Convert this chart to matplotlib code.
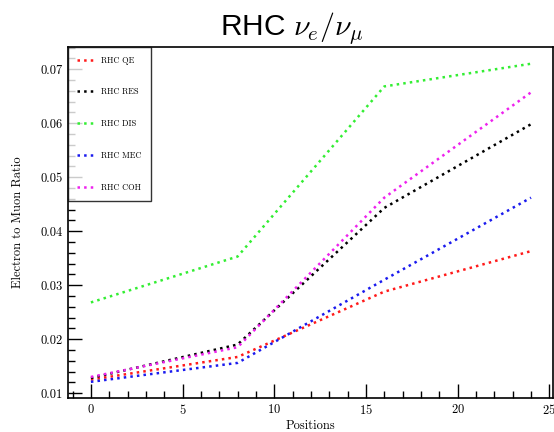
import matplotlib
matplotlib.use('Agg')
import matplotlib.pyplot as plt
from matplotlib.ticker import MultipleLocator

plt.rcParams['font.family'] = 'serif'
plt.rcParams['font.serif'] = ['cmr10', 'DejaVu Serif']
plt.rcParams['axes.formatter.use_mathtext'] = True
plt.rcParams['mathtext.fontset'] = 'cm'

positions = [0, 8, 16, 24]
qe = [0.0125, 0.0167, 0.0288, 0.0363]
res = [0.0128, 0.0190, 0.0443, 0.0598]
dis = [0.0268, 0.0353, 0.0668, 0.0710]
mec = [0.0121, 0.0156, 0.0310, 0.0462]
coh = [0.0130, 0.0185, 0.0462, 0.0657]

labels = ['RHC QE', 'RHC RES', 'RHC DIS', 'RHC MEC', 'RHC COH']
colors = ['#ff1a1a', '#000000', '#33ee33', '#1a1aee', '#ee22ee']

fig = plt.figure(figsize=(5.54, 4.32), dpi=100)
ax = fig.add_axes([0.1227, 0.0787, 0.8755, 0.8125])

for y, lab, c in zip([qe, res, dis, mec, coh], labels, colors):
    ax.plot(positions, y, linestyle=':', linewidth=1.8, color=c, label=lab)

ax.set_xlim(-1.25, 25.2)
ax.set_ylim(0.0091, 0.0741)
ax.xaxis.set_major_locator(MultipleLocator(5))
ax.xaxis.set_minor_locator(MultipleLocator(1))
ax.yaxis.set_major_locator(MultipleLocator(0.01))
ax.yaxis.set_minor_locator(MultipleLocator(0.002))
ax.tick_params(which='major', direction='in', length=10, width=1, labelsize=9)
ax.tick_params(which='minor', direction='in', length=5, width=1)
ax.yaxis.set_major_formatter(matplotlib.ticker.FormatStrFormatter('%.2f'))
for s in ax.spines.values():
    s.set_linewidth(1.2)

ax.set_xlabel('Positions', fontsize=9, labelpad=2)
ax.set_ylabel('Electron to Muon Ratio', fontsize=9, labelpad=12)

leg = ax.legend(loc='upper left', fontsize=6, labelspacing=2.8, handlelength=2.0,
                borderaxespad=0, fancybox=False, edgecolor='black',
                handletextpad=0.9, borderpad=1.1)
leg.get_frame().set_linewidth(1.0)

fig.text(0.527, 0.893, r'RHC $\nu_e/\nu_\mu$', fontsize=21.5, ha='center', va='bottom',
         family='Liberation Sans')

fig.savefig('out.png', dpi=100)
